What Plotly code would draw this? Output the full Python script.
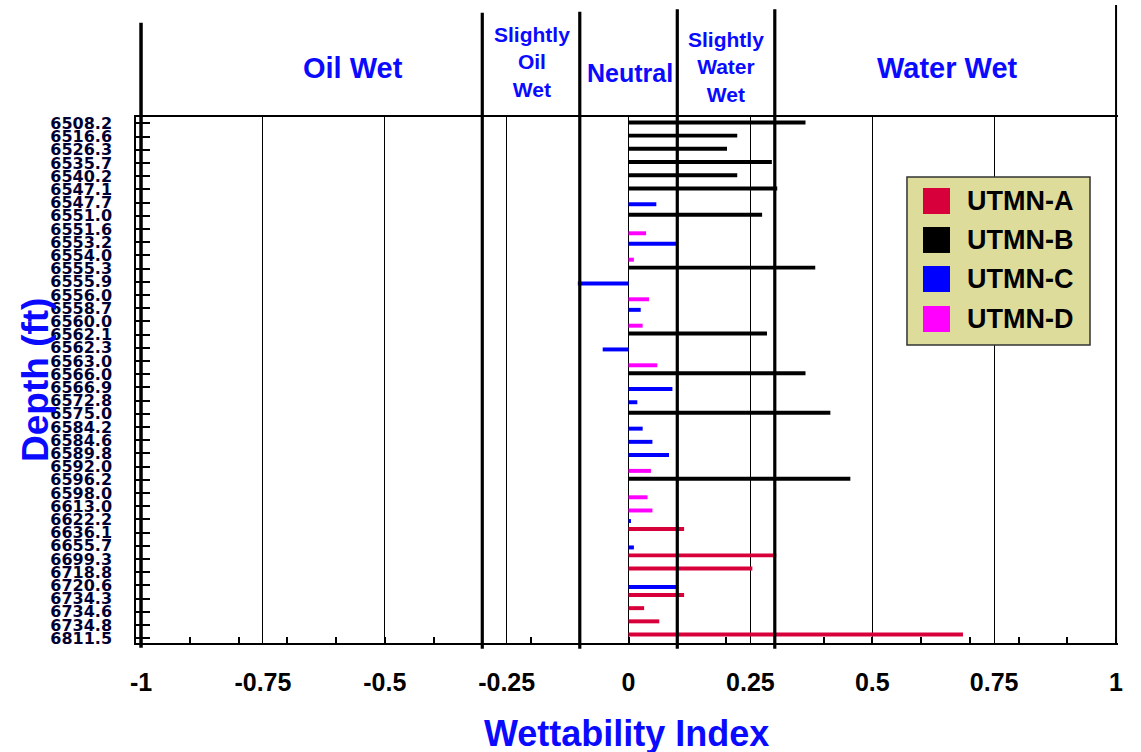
import plotly.graph_objects as go

# ---------------- data ----------------
depths = ["6508.2", "6516.6", "6526.3", "6535.7", "6540.2", "6547.1", "6547.7", "6551.0",
          "6551.6", "6553.2", "6554.0", "6555.3", "6555.9", "6556.0", "6558.7", "6560.0",
          "6562.1", "6562.3", "6563.0", "6566.0", "6566.9", "6572.8", "6575.0", "6584.2",
          "6584.6", "6589.8", "6592.0", "6596.2", "6598.0", "6613.0", "6622.2", "6636.1",
          "6655.7", "6699.3", "6718.8", "6720.6", "6734.3", "6734.6", "6734.8", "6811.5"]

series_names = ["UTMN-A", "UTMN-B", "UTMN-C", "UTMN-D"]

utmn_a_depths = ["6636.1", "6699.3", "6718.8", "6734.3", "6734.6", "6734.8", "6811.5"]
utmn_a_wi = [0.114, 0.303, 0.254, 0.114, 0.032, 0.063, 0.686]

utmn_b_depths = ["6508.2", "6516.6", "6526.3", "6535.7", "6540.2", "6547.1", "6551.0",
                 "6555.3", "6562.1", "6566.0", "6575.0", "6596.2"]
utmn_b_wi = [0.363, 0.223, 0.202, 0.294, 0.223, 0.305, 0.274, 0.383, 0.284, 0.363, 0.414, 0.455]

utmn_c_depths = ["6547.7", "6553.2", "6555.9", "6558.7", "6562.3", "6566.9", "6572.8",
                 "6584.2", "6584.6", "6589.8", "6622.2", "6655.7", "6720.6"]
utmn_c_wi = [0.057, 0.101, -0.104, 0.025, -0.053, 0.090, 0.018, 0.029, 0.049, 0.083, 0.005, 0.011, 0.101]

utmn_d_depths = ["6551.6", "6554.0", "6556.0", "6560.0", "6563.0", "6592.0", "6598.0", "6613.0"]
utmn_d_wi = [0.036, 0.011, 0.042, 0.029, 0.059, 0.046, 0.039, 0.049]

x_tick_vals = [-1, -0.75, -0.5, -0.25, 0, 0.25, 0.5, 0.75, 1]
x_tick_text = ["-1", "-0.75", "-0.5", "-0.25", "0", "0.25", "0.5", "0.75", "1"]

class_bounds = [-0.3, -0.1, 0.1, 0.3]
class_labels = ["Oil Wet", "Slightly<br>Oil<br>Wet", "Neutral", "Slightly<br>Water<br>Wet", "Water Wet"]

# ---------------- style ----------------
colors = ["#d8003a", "#000000", "#0000ff", "#ff00ff"]
bar_offsets = [-0.42, -0.22, -0.02, 0.18]
bar_width = 0.30
BLUE = "#0a0aff"
FONT = "Liberation Sans"

fig = go.Figure()
all_depths = [utmn_a_depths, utmn_b_depths, utmn_c_depths, utmn_d_depths]
all_wi = [utmn_a_wi, utmn_b_wi, utmn_c_wi, utmn_d_wi]
for name, ds, vs, col, off in zip(series_names, all_depths, all_wi, colors, bar_offsets):
    fig.add_trace(go.Bar(
        name=name, y=ds, x=vs, orientation="h",
        width=bar_width, offset=off,
        marker=dict(color=col, line=dict(width=0)),
        showlegend=False,
    ))

shapes = []
# thick class boundaries, extending into the header
tops = [1.198, 1.200, 1.205, 1.205]
for b, t in zip(class_bounds, tops):
    shapes.append(dict(type="line", xref="x", yref="paper", x0=b, x1=b, y0=-0.011, y1=t,
                       line=dict(color="black", width=3.2), layer="above"))
# left (-1) thick line and right edge line
shapes.append(dict(type="line", xref="x", yref="paper", x0=-1, x1=-1, y0=-0.009, y1=1.179,
                   line=dict(color="black", width=3.5), layer="above"))
shapes.append(dict(type="line", xref="x", yref="paper", x0=1, x1=1, y0=0, y1=1.213,
                   line=dict(color="black", width=2), layer="above"))

# legend box
shapes.append(dict(type="rect", xref="paper", yref="paper", x0=0.7851, x1=0.9715, y0=0.5665, y1=0.886,
                   fillcolor="#dedc9a", line=dict(color="#333333", width=1.5), layer="above"))
leg_y = [0.8403, 0.7662, 0.6920, 0.6160]
annotations = []
for name, col, yy in zip(series_names, colors, leg_y):
    shapes.append(dict(type="rect", xref="paper", yref="paper", x0=0.8014, x1=0.8289,
                       y0=yy - 0.0247, y1=yy + 0.0247, fillcolor=col, line=dict(width=0), layer="above"))
    annotations.append(dict(text=name, xref="paper", yref="paper", x=0.8442, y=yy,
                            xanchor="left", yanchor="middle", showarrow=False,
                            font=dict(family=FONT, size=27, color="black", weight="bold")))

# header labels
hdr_x = [-0.565, -0.198, 0.003, 0.200, 0.655]
hdr_y = [1.093, 1.1055, 1.0837, 1.096, 1.093]
hdr_size = [29, 21, 25, 21, 29]
for t, xx, yy, s in zip(class_labels, hdr_x, hdr_y, hdr_size):
    annotations.append(dict(text=t, xref="x", yref="paper", x=xx, y=yy, showarrow=False,
                            xanchor="center", yanchor="middle",
                            font=dict(family=FONT, size=s, color=BLUE, weight="bold")))

# axis titles
annotations.append(dict(text="Wettability Index", xref="paper", yref="paper", x=0.4995, y=-0.172,
                        showarrow=False, xanchor="center", yanchor="middle",
                        font=dict(family=FONT, size=36, color=BLUE, weight="bold")))
annotations.append(dict(text="Depth (ft)", xref="paper", yref="paper", x=-0.1029, y=0.5,
                        showarrow=False, xanchor="center", yanchor="middle", textangle=-90,
                        font=dict(family=FONT, size=37, color=BLUE, weight="bold")))

fig.update_layout(
    width=1141, height=752,
    margin=dict(l=136, r=23, t=117, b=109),
    paper_bgcolor="white", plot_bgcolor="white",
    barmode="overlay",
    shapes=shapes, annotations=annotations,
    xaxis=dict(
        range=[-1.0103, 1.004],
        tickmode="array", tickvals=x_tick_vals, ticktext=x_tick_text,
        showgrid=True, gridcolor="black", gridwidth=1.3,
        zeroline=False, showline=True, linecolor="black", linewidth=1.5, mirror=True,
        ticks="", ticklabelstandoff=16,
        tickfont=dict(family=FONT, size=25, color="black", weight="bold"),
        minor=dict(tickmode="linear", tick0=0, dtick=0.1, ticks="inside", ticklen=6,
                   tickwidth=1.5, tickcolor="black", showgrid=False),
    ),
    yaxis=dict(
        type="category", categoryorder="array", categoryarray=depths,
        tickmode="array", tickvals=depths, ticktext=depths,
        range=[39.37, -0.48],
        showgrid=False, zeroline=False,
        showline=True, linecolor="black", linewidth=1.5,
        ticks="inside", ticklen=14, tickwidth=1.5, tickcolor="black",
        ticklabelstandoff=19,
        tickfont=dict(family="DejaVu Sans", size=16, color="#000033", weight="bold"),
    ),
)

fig.write_html("out.html", config={"displayModeBar": False},
               post_script="document.body.style.margin='0';document.body.style.overflow='hidden';")
